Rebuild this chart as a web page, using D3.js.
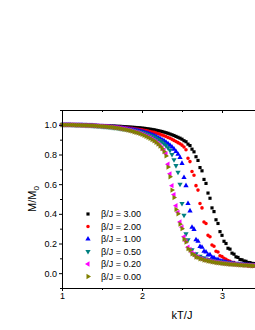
<!DOCTYPE html>
<html>
<head>
<meta charset="utf-8">
<script src="https://cdn.jsdelivr.net/npm/d3@7"></script>
<style>
  body { margin: 0; background: #fff; }
  svg { display: block; font-family: "Liberation Sans", Arial, sans-serif; }
</style>
</head>
<body>
<div id="chart"></div>
<script>
// temperature grid kT/J
const T = [1.000,1.025,1.050,1.075,1.100,1.125,1.150,1.175,1.200,1.225,
  1.250,1.275,1.300,1.325,1.350,1.375,1.400,1.425,1.450,1.475,
  1.500,1.525,1.550,1.575,1.600,1.625,1.650,1.675,1.700,1.725,
  1.750,1.775,1.800,1.825,1.850,1.875,1.900,1.925,1.950,1.975,
  2.000,2.025,2.050,2.075,2.100,2.125,2.150,2.175,2.200,2.225,
  2.250,2.275,2.300,2.325,2.350,2.375,2.400,2.425,2.450,2.475,
  2.500,2.525,2.550,2.575,2.600,2.625,2.650,2.675,2.700,2.725,
  2.750,2.775,2.800,2.825,2.850,2.875,2.900,2.925,2.950,2.975,
  3.000,3.025,3.050,3.075,3.100,3.125,3.150,3.175,3.200,3.225,
  3.250,3.275,3.300,3.325,3.350,3.375,3.400];

// M/M0 for each beta/J
const m300 = [1.000,1.000,1.000,1.000,1.000,1.000,1.000,0.999,0.999,0.999,
  0.999,0.998,0.998,0.998,0.997,0.997,0.996,0.996,0.995,0.995,
  0.995,0.994,0.994,0.993,0.993,0.992,0.992,0.991,0.990,0.990,
  0.989,0.988,0.987,0.986,0.985,0.984,0.983,0.982,0.981,0.980,
  0.978,0.977,0.975,0.973,0.971,0.969,0.967,0.964,0.961,0.958,
  0.955,0.951,0.947,0.943,0.938,0.933,0.928,0.922,0.916,0.910,
  0.903,0.893,0.886,0.870,0.860,0.836,0.818,0.785,0.760,0.712,
  0.690,0.632,0.605,0.540,0.505,0.440,0.415,0.360,0.335,0.280,
  0.255,0.215,0.200,0.168,0.162,0.135,0.128,0.110,0.106,0.092,
  0.090,0.082,0.080,0.072,0.071,0.066,0.065];
const m200 = [1.000,1.000,1.000,1.000,1.000,1.000,0.999,0.999,0.999,0.998,
  0.998,0.998,0.997,0.997,0.996,0.996,0.995,0.994,0.994,0.993,
  0.992,0.991,0.990,0.990,0.989,0.988,0.987,0.986,0.985,0.984,
  0.983,0.981,0.980,0.979,0.977,0.976,0.974,0.972,0.970,0.968,
  0.966,0.964,0.961,0.958,0.955,0.952,0.949,0.945,0.941,0.936,
  0.931,0.926,0.921,0.915,0.909,0.902,0.895,0.888,0.880,0.872,
  0.863,0.850,0.832,0.775,0.752,0.685,0.660,0.590,0.560,0.470,
  0.440,0.345,0.335,0.255,0.245,0.190,0.182,0.148,0.143,0.118,
  0.112,0.100,0.094,0.085,0.080,0.072,0.071,0.064,0.062,0.058,
  0.057,0.052,0.053,0.048,0.050,0.046,0.047];
const m100 = [1.000,1.000,1.000,1.000,1.000,0.999,0.999,0.999,0.998,0.998,
  0.998,0.997,0.997,0.996,0.995,0.995,0.994,0.993,0.992,0.991,
  0.990,0.989,0.988,0.987,0.986,0.985,0.984,0.982,0.981,0.979,
  0.978,0.976,0.974,0.972,0.970,0.968,0.966,0.963,0.961,0.958,
  0.955,0.951,0.947,0.943,0.938,0.933,0.928,0.922,0.915,0.908,
  0.900,0.892,0.883,0.873,0.862,0.850,0.836,0.820,0.802,0.780,
  0.740,0.645,0.590,0.470,0.420,0.310,0.295,0.225,0.215,0.180,
  0.175,0.148,0.142,0.122,0.124,0.105,0.104,0.092,0.092,0.083,
  0.082,0.076,0.075,0.070,0.070,0.066,0.065,0.062,0.062,0.059,
  0.059,0.056,0.056,0.054,0.054,0.052,0.052];
const m050 = [1.000,1.000,1.000,1.000,1.000,0.999,0.999,0.998,0.998,0.998,
  0.997,0.997,0.996,0.995,0.995,0.994,0.993,0.992,0.991,0.990,
  0.989,0.988,0.987,0.985,0.984,0.983,0.981,0.980,0.978,0.976,
  0.974,0.972,0.970,0.968,0.966,0.963,0.961,0.958,0.955,0.952,
  0.948,0.944,0.940,0.935,0.930,0.924,0.918,0.911,0.903,0.894,
  0.884,0.873,0.860,0.845,0.828,0.800,0.765,0.725,0.680,0.600,
  0.470,0.390,0.265,0.225,0.160,0.158,0.128,0.130,0.112,0.114,
  0.104,0.102,0.095,0.092,0.088,0.086,0.082,0.081,0.078,0.076,
  0.073,0.072,0.070,0.069,0.067,0.066,0.065,0.064,0.062,0.061,
  0.060,0.059,0.058,0.057,0.056,0.055,0.054];
const m020 = [1.000,1.000,1.000,1.000,0.999,0.999,0.999,0.998,0.998,0.998,
  0.997,0.997,0.996,0.996,0.995,0.995,0.994,0.993,0.993,0.992,
  0.991,0.990,0.989,0.988,0.986,0.985,0.983,0.981,0.979,0.977,
  0.975,0.972,0.969,0.966,0.963,0.959,0.955,0.951,0.947,0.943,
  0.938,0.932,0.926,0.920,0.913,0.905,0.896,0.886,0.875,0.862,
  0.847,0.828,0.805,0.735,0.670,0.590,0.530,0.455,0.410,0.345,
  0.310,0.245,0.215,0.175,0.160,0.138,0.128,0.112,0.108,0.100,
  0.097,0.090,0.089,0.084,0.082,0.078,0.076,0.073,0.072,0.069,
  0.068,0.066,0.065,0.063,0.062,0.061,0.060,0.059,0.058,0.057,
  0.056,0.055,0.055,0.054,0.053,0.052,0.052];
const m000 = [1.000,1.000,1.000,1.000,0.999,0.999,0.999,0.998,0.998,0.998,
  0.997,0.997,0.996,0.996,0.995,0.995,0.994,0.993,0.992,0.991,
  0.990,0.989,0.988,0.987,0.985,0.984,0.982,0.980,0.978,0.976,
  0.973,0.970,0.967,0.964,0.961,0.957,0.953,0.949,0.945,0.940,
  0.935,0.929,0.923,0.916,0.909,0.901,0.892,0.882,0.870,0.856,
  0.840,0.820,0.790,0.715,0.650,0.560,0.510,0.430,0.400,0.330,
  0.300,0.230,0.210,0.165,0.155,0.130,0.125,0.108,0.106,0.097,
  0.095,0.088,0.087,0.082,0.080,0.076,0.074,0.071,0.070,0.067,
  0.066,0.064,0.063,0.061,0.060,0.059,0.058,0.057,0.056,0.055,
  0.054,0.053,0.053,0.052,0.051,0.050,0.050];

const labels = ["\u03b2/J = 3.00", "\u03b2/J = 2.00", "\u03b2/J = 1.00", "\u03b2/J = 0.50", "\u03b2/J = 0.20", "\u03b2/J = 0.00"];
const colors = ["#000000", "#ff0000", "#0000ff", "#008080", "#ff00ff", "#808000"];
const shapes = ["square", "circle", "up", "down", "left", "right"];
const seriesValues = [m300, m200, m100, m050, m020, m000];

const xTicks = [1, 2, 3];
const xMinor = [1.5, 2.5, 3.5];
const yTicks = [0.0, 0.2, 0.4, 0.6, 0.8, 1.0];
const yMinor = [-0.1, 0.1, 0.3, 0.5, 0.7, 0.9, 1.1];

const W = 255, H = 330;
const margin = { top: 110, left: 62 };
const plotW = 240, plotH = 178;

const svg = d3.select("#chart").append("svg")
  .attr("width", W).attr("height", H);

const g = svg.append("g")
  .attr("transform", `translate(${margin.left},${margin.top})`);

const x = d3.scaleLinear().domain([1, 4]).range([0, plotW]);
const y = d3.scaleLinear().domain([-0.1, 1.1]).range([plotH, 0]);

function symbolPath(shape) {
  if (shape === "square") return d3.symbol(d3.symbolSquare, 10)();
  if (shape === "circle") return d3.symbol(d3.symbolCircle, 10)();
  return d3.symbol(d3.symbolTriangle, 12)();
}
function symbolRot(shape) {
  return { up: 0, down: 180, left: -90, right: 90 }[shape] || 0;
}

// data points
seriesValues.forEach((vals, si) => {
  const pts = T.map((t, i) => ({ t: t, m: vals[i] }));
  g.append("g").selectAll("path")
    .data(pts)
    .enter()
    .append("path")
    .attr("d", symbolPath(shapes[si]))
    .attr("transform", d => `translate(${x(d.t)},${y(d.m)}) rotate(${symbolRot(shapes[si])})`)
    .attr("fill", colors[si]);
});

// axes
const tickFont = "9px";
const bottom = g.append("g")
  .attr("transform", `translate(0,${plotH})`)
  .call(d3.axisBottom(x).tickValues(xTicks).tickFormat(d3.format("d")).tickSize(3).tickSizeOuter(0).tickPadding(2));
bottom.selectAll("text").style("font-size", tickFont);

g.append("g")
  .attr("transform", `translate(0,${plotH})`)
  .call(d3.axisBottom(x).tickValues(xMinor).tickFormat("").tickSize(2).tickSizeOuter(0));

const left = g.append("g")
  .call(d3.axisLeft(y).tickValues(yTicks).tickFormat(d3.format(".1f")).tickSize(3).tickSizeOuter(0).tickPadding(2));
left.selectAll("text").style("font-size", tickFont);

g.append("g")
  .call(d3.axisLeft(y).tickValues(yMinor).tickFormat("").tickSize(2).tickSizeOuter(0));

// top and right frame with inward ticks
g.append("g")
  .call(d3.axisTop(x).tickValues(xTicks).tickFormat("").tickSize(-3).tickSizeOuter(0));
g.append("g")
  .call(d3.axisTop(x).tickValues(xMinor).tickFormat("").tickSize(-2).tickSizeOuter(0));
g.append("g")
  .attr("transform", `translate(${plotW},0)`)
  .call(d3.axisRight(y).tickValues(yTicks).tickFormat("").tickSize(-3).tickSizeOuter(0));

g.selectAll(".domain").attr("stroke", "#000").attr("stroke-width", 1);
g.selectAll(".tick line").attr("stroke", "#000");

// legend
const legend = g.append("g").attr("transform", "translate(26,104)");
labels.forEach((lab, i) => {
  const row = legend.append("g").attr("transform", `translate(0,${i * 12.5})`);
  row.append("path")
    .attr("d", symbolPath(shapes[i]))
    .attr("transform", `rotate(${symbolRot(shapes[i])})`)
    .attr("fill", colors[i]);
  row.append("text")
    .attr("x", 13)
    .attr("y", 0)
    .attr("dy", "0.35em")
    .style("font-size", "9px")
    .text(lab);
});

// axis titles
g.append("text")
  .attr("x", plotW / 2)
  .attr("y", plotH + 31)
  .attr("text-anchor", "middle")
  .style("font-size", "11px")
  .text("kT/J");

const yt = g.append("text")
  .attr("transform", `translate(-26,${plotH / 2}) rotate(-90)`)
  .attr("text-anchor", "middle")
  .style("font-size", "11px");
yt.append("tspan").text("M/M");
yt.append("tspan").attr("dy", 3).style("font-size", "8px").text("0");
</script>
</body>
</html>
